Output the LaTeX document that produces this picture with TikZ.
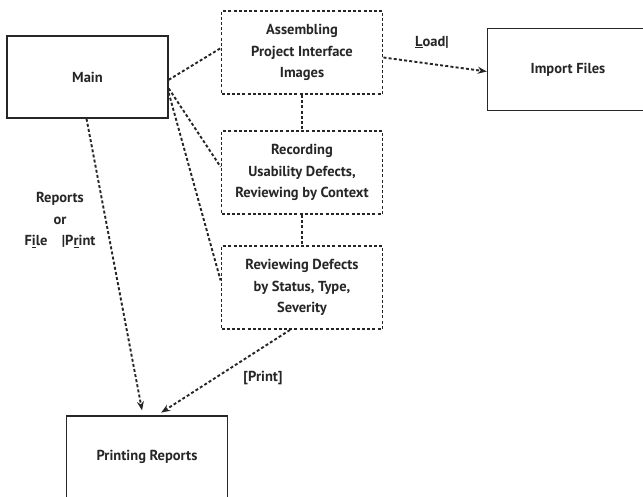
\documentclass[tikz,border=0pt]{standalone}
\usepackage{fontspec}
\setmainfont{PT Sans}
\usetikzlibrary{arrows.meta}

\begin{document}
\begin{tikzpicture}[x=1pt,y=-1pt,
  font=\fontsize{14.5}{21.5}\selectfont\bfseries,
  text=black!85,
  solidbox/.style={draw=black!85,line width=1.4pt,minimum width=161pt,minimum height=82pt,align=center},
  dotbox/.style={draw=black!85,line width=1.9pt,dash pattern=on 3pt off 2.2pt,minimum width=161pt,minimum height=83pt,align=center},
  link/.style={draw=black!85,line width=1.9pt,dash pattern=on 3pt off 2.2pt},
  flow/.style={link,-{Stealth[length=9pt,width=7pt]}}]
\useasboundingbox (0,0) rectangle (643,497);
\node[solidbox] (main) at (87.5,77) {Main};
\node[dotbox] (assemble) at (302,52.5) {Assembling\\Project Interface\\Images};
\node[solidbox] (import) at (568,69.5) {Import Files};
\node[dotbox] (record) at (302,172.5) {Recording\\Usability Defects,\\Reviewing by Context};
\node[dotbox] (review) at (302,287.5) {Reviewing Defects\\by Status, Type,\\Severity};
\node[solidbox] (printing) at (147,457) {Printing Reports};
\draw[link] (main.-2) -- (assemble.177);
\draw[link] (main.-8) -- (record.176);
\draw[link] (main.-11) -- (review.175);
\draw[link] (assemble.south) -- (record.north);
\draw[link] (record.south) -- (review.north);
\draw[flow] ([yshift=-5pt]assemble.east) -- ([yshift=-2pt]import.west);
\draw[flow,shorten >=5pt] ([xshift=-1pt]main.south) -- ([xshift=-4pt]printing.north);
\draw[flow,shorten >=5pt] ([xshift=-12pt]review.south) -- ([xshift=10pt]printing.north);
\node (loadlbl) at (432,42) {\underline{L}oad|};
\node[align=center] (reportslbl) at (60,220) {Reports\\or\\F\underline{i}le\quad|P\underline{r}int};
\node (printlbl) at (263,378) {[Print]};
\end{tikzpicture}
\end{document}
